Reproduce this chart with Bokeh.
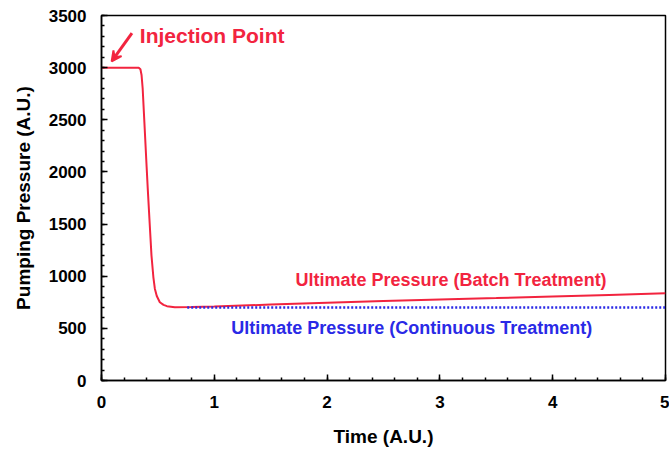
from bokeh.plotting import figure
from bokeh.models import Range1d, Arrow, VeeHead, Label, SingleIntervalTicker
from bokeh.embed import file_html
from bokeh.resources import INLINE

# Batch treatment pumping pressure curve
time_batch = [0, 0.33, 0.345, 0.355, 0.365, 0.38, 0.40, 0.41, 0.43, 0.443, 0.46, 0.473,
              0.49, 0.517, 0.55, 0.58, 0.65, 0.8, 1.0, 1.5, 2.0, 2.5, 3.0, 3.5, 4.0, 4.5, 5.0]
pressure_batch = [3000, 3000, 2985, 2930, 2800, 2480, 2050, 1840, 1450, 1200, 990, 880,
                  810, 750, 725, 713, 703, 704, 710, 728, 745, 762, 776, 790, 805, 820, 836]
# Continuous treatment ultimate pressure
time_cont = [0.76, 5.0]
pressure_cont = [700, 700]

FONT = "Liberation Sans"
RED = "#f2243f"
BLUE = "#2a2ae6"

p = figure(width=669, height=453, output_backend="svg", toolbar_location=None,
           x_range=Range1d(0, 5), y_range=Range1d(0, 3500),
           min_border_left=101, min_border_right=4, min_border_top=15, min_border_bottom=73)
p.background_fill_color = "white"
p.border_fill_color = "white"
p.outline_line_color = "black"
p.outline_line_width = 1.5
p.grid.visible = False

p.line(time_batch, pressure_batch, line_color=RED, line_width=2)
p.line(time_cont, pressure_cont, line_color=BLUE, line_width=2.5, line_dash="2 2")

for ax in (p.xaxis[0], p.yaxis[0]):
    ax.major_tick_in = 6
    ax.major_tick_out = 0
    ax.minor_tick_in = 3
    ax.minor_tick_out = 0
    ax.axis_line_width = 1.5
    ax.major_tick_line_width = 1.5
    ax.minor_tick_line_width = 1.5
    ax.major_label_text_font = FONT
    ax.major_label_text_font_style = "bold"
    ax.major_label_text_font_size = "17px"
    ax.major_label_text_color = "black"
    ax.axis_label_text_font = FONT
    ax.axis_label_text_font_style = "bold"
    ax.axis_label_text_font_size = "19px"
    ax.axis_label_text_color = "black"

p.xaxis.ticker = SingleIntervalTicker(interval=1, num_minor_ticks=5)
p.yaxis.ticker = SingleIntervalTicker(interval=500, num_minor_ticks=5)
p.xaxis.major_label_standoff = 15
p.yaxis.major_label_standoff = 15
p.xaxis.axis_label = "Time (A.U.)"
p.yaxis.axis_label = "Pumping Pressure (A.U.)"
p.xaxis.axis_label_standoff = 15
p.yaxis.axis_label_standoff = 12

p.add_layout(Arrow(end=VeeHead(size=10, line_color=RED, fill_color=RED, line_width=2),
                   x_start=0.27, y_start=3330, x_end=0.09, y_end=3060,
                   line_color=RED, line_width=3))
p.add_layout(Label(x=0.34, y=3310, text="Injection Point", text_color=RED,
                   text_font=FONT, text_font_style="bold", text_font_size="21px",
                   text_baseline="middle"))
p.add_layout(Label(x=1.72, y=960, text="Ultimate Pressure (Batch Treatment)", text_color=RED,
                   text_font=FONT, text_font_style="bold", text_font_size="18px",
                   text_baseline="middle"))
p.add_layout(Label(x=1.15, y=508, text="Ultimate Pressure (Continuous Treatment)", text_color=BLUE,
                   text_font=FONT, text_font_style="bold", text_font_size="18px",
                   text_baseline="middle"))

open("out.html", "w").write(file_html(p, INLINE))
